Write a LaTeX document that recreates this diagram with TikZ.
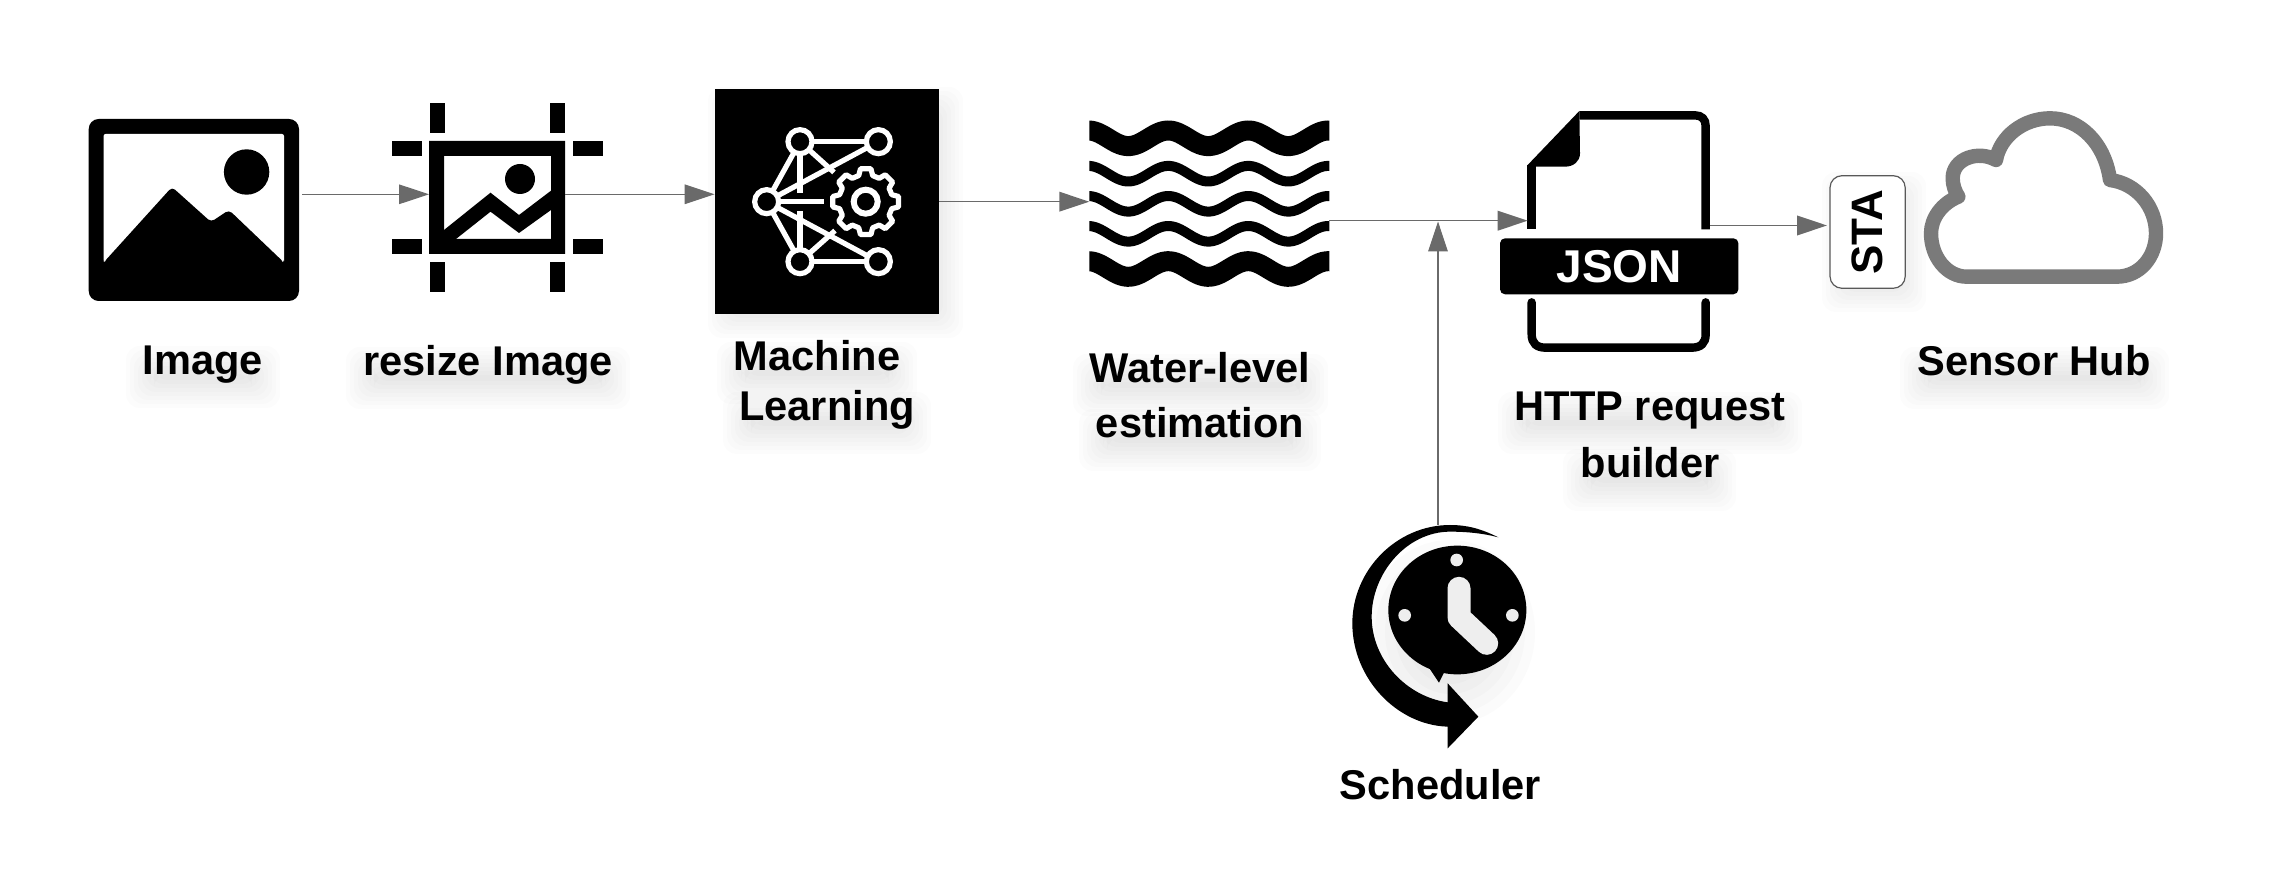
\documentclass[tikz,border=0pt]{standalone}
\usepackage{fontspec}
\setmainfont{Liberation Sans}
\usetikzlibrary{arrows.meta}
\definecolor{flowgray}{HTML}{6A6A6A}
\definecolor{cloudgray}{HTML}{7A7A7A}
\definecolor{facelight}{HTML}{EEEEEE}
\newcommand{\softshadow}[4]{%
  \foreach \s in {-10,-6,-2,2,6,10,14,18}{%
    \fill[black,opacity=.011,rounded corners=7pt] ({#1-\s},{#2-\s}) rectangle ({#3+\s},{#4+\s});}}
\newcommand{\waveband}[2]{% centre y, stroke width
  \begin{scope}
    \clip (1089.3,100) rectangle (1329.3,300);
    \draw[black,line width=#2] plot[domain=1075:1345,samples=109,smooth] (\x,{#1-7.8*cos((\x-1168.3)*4.5)});
  \end{scope}}
\tikzset{
  zoomed/.style={x=0.166667pt,y=-0.166667pt},
  iconbox/.style={inner sep=0pt,outer sep=0pt,rectangle},
  flow/.style={draw=flowgray,line width=.8pt,-{Triangle[length=15pt,width=9.8pt,fill=flowgray]}},
  thinflow/.style={flow,line width=.55pt},
  lbl/.style={anchor=base,inner sep=0pt,font=\fontsize{20.8}{24}\selectfont\bfseries,text=black},
  netline/.style={draw=white,line width=2.6pt},
  netdot/.style={draw=white,fill=black,line width=2.6pt},
}
\begin{document}
\begin{tikzpicture}[x=0.5pt,y=-0.5pt]
\useasboundingbox (0,0) rectangle (2282,881);
\fill[white] (0,0) rectangle (2282,881);

% ---- soft shadows
\softshadow{144}{364}{262}{390}
\softshadow{364}{365}{612}{391}
\softshadow{735}{360}{899}{386}
\softshadow{741}{410}{913}{436}
\softshadow{1091}{372}{1310}{398}
\softshadow{1097}{427}{1303}{453}
\softshadow{1516}{410}{1784}{436}
\softshadow{1581}{467}{1718}{493}
\softshadow{1918}{365}{2151}{391}
\softshadow{726}{105}{945}{320}
\softshadow{1840}{190}{1908}{294}
\foreach \s in {-40,-30,-20,-10,0,10}{%
  \fill[black,opacity=.016] (1450,632) ellipse [x radius={75+\s},y radius={82+\s}];}

% ---- anchor nodes for the icons
\node[iconbox,minimum width=105.2pt,minimum height=91pt] (image) at (193.85,210) {};
\node[iconbox,minimum width=68pt,minimum height=56.5pt] (resize) at (497,197.5) {};
\node[iconbox,fill=black,minimum width=112.4pt,minimum height=112.4pt] (ml) at (827,201.65) {};
\node[iconbox,minimum width=120pt,minimum height=83.5pt] (water) at (1209.3,203.5) {};
\node[iconbox,minimum width=91.2pt,minimum height=120.4pt] (doc) at (1618.85,231.35) {};
\node[iconbox,minimum width=86pt,minimum height=111.5pt] (clock) at (1438,636.5) {};
\node[iconbox,minimum width=120pt,minimum height=86.7pt] (cloud) at (2043.8,186.3) {};

% ---- image icon
\fill[black,rounded corners=5pt] (88.7,119) rectangle (299,301);
\fill[white,rounded corners=1pt] (103.6,134) rectangle (284,263);
\fill[black] (246.6,172) circle [radius=22.7];
\fill[black,rounded corners=2pt] (103.6,264) -- (103.6,262.5) -- (172,187) -- (211,222) -- (229,210) -- (284,262.5) -- (284,264) -- cycle;

% ---- resize icon
\fill[black,even odd rule] (429,141) rectangle (565,254) (444,156) rectangle (551,239);
\foreach \xa in {429.7,550}{%
  \fill[black] (\xa,103) rectangle ++(15,30);
  \fill[black] (\xa,262) rectangle ++(15,30);}
\foreach \ya in {141,239}{%
  \fill[black] (392,\ya) rectangle ++(30,15);
  \fill[black] (572.6,\ya) rectangle ++(30,15);}
\fill[black] (520,179) circle [radius=15];
\fill[black] (444,230) -- (490.5,192.7) -- (519,215) -- (551,190.7) -- (551,210) -- (519,233) -- (490.5,211.7) -- (456,239) -- (444,239) -- cycle;

% ---- machine learning icon
\begin{scope}[shift={(710,80)},zoomed]
  \coordinate (n1) at (270,185);
  \coordinate (n2) at (505,185);
  \coordinate (n3) at (170,365);
  \coordinate (n4) at (270,545);
  \coordinate (n5) at (505,545);
  \draw[netline] (n1) -- (n2);
  \draw[netline] (n3) -- (n2);
  \draw[netline] (n3) -- (n1);
  \draw[netline] (n1) -- (270,338);
  \draw[netline] (n1) -- (372,277);
  \draw[netline] (n3) -- (342,365);
  \draw[netline] (n3) -- (n5);
  \draw[netline] (n3) -- (n4);
  \draw[netline] (n4) -- (270,392);
  \draw[netline] (n4) -- (375,452);
  \draw[netline] (n4) -- (n5);
  \foreach \n in {n1,n2,n3,n4,n5}{\draw[netdot] (\n) circle [radius=36];}
\end{scope}
\begin{scope}[shift={(865.7,201.7)}]
  \draw[white,line width=2.6pt,line join=round]
    (-15:27) foreach \a in {0,45,...,315} {-- (\a-15:27) -- (\a-9:33.3) -- (\a+9:33.3) -- (\a+15:27)} -- cycle;
  \draw[white,line width=3pt] (0,0) circle [radius=12];
\end{scope}

% ---- water icon
\waveband{138.3}{10pt}
\waveband{173.7}{5pt}
\waveband{203.8}{5pt}
\waveband{233.8}{5pt}
\waveband{269}{10pt}

% ---- JSON document icon
\begin{scope}[shift={(1490,100)},zoomed]
  \draw[black,line width=4.2pt] (268,46) -- (615,46) .. controls (635,46) and (647,58) .. (647,78) -- (647,388);
  \draw[black,line width=4.2pt] (125,195) -- (125,388);
  \draw[black,line width=4.2pt,line cap=round] (125,607) -- (125,703) .. controls (125,730) and (140,743) .. (167,743) -- (605,743) .. controls (632,743) and (647,730) .. (647,703) -- (647,607);
  \fill[black] (113,195) -- (268,33) -- (270,160) .. controls (270,185) and (250,200) .. (225,200) -- (113,200) -- cycle;
\end{scope}
\node[iconbox,fill=black,rounded corners=2.5pt,text=white,minimum width=119.2pt,minimum height=28pt,font=\fontsize{23}{27}\selectfont\bfseries] (json) at (1619.2,266.3) {JSON};

% ---- cloud icon
\begin{scope}[shift={(1800,100)},zoomed]
  \draw[cloudgray,line width=7.2pt,line join=round]
    (500,530) -- (950,530) .. controls (1020,530) and (1068,470) .. (1068,400)
    .. controls (1068,320) and (1010,250) .. (930,240)
    .. controls (915,130) and (840,55) .. (750,55)
    .. controls (670,55) and (600,110) .. (588,180)
    .. controls (535,150) and (458,175) .. (458,235)
    .. controls (458,255) and (465,275) .. (475,290)
    .. controls (425,310) and (393,355) .. (393,400)
    .. controls (393,470) and (440,530) .. (500,530) -- cycle;
\end{scope}

% ---- STA badge
\node[iconbox,draw=black!65,fill=white,line width=.6pt,rounded corners=6pt,rotate=90,minimum width=56.3pt,minimum height=37.6pt,font=\fontsize{22}{26}\selectfont\bfseries] (sta) at (1867.6,232) {\raisebox{-2.6pt}{STA}};

% ---- scheduler icon
\begin{scope}[shift={(1300,500)},zoomed]
  \fill[black] (595,112) .. controls (540,85) and (500,75) .. (450,75)
    .. controls (290,75) and (157,210) .. (157,370)
    .. controls (157,535) and (290,675) .. (443,680)
    -- (443,745) -- (535,650) -- (443,550) -- (443,607)
    .. controls (320,590) and (215,480) .. (215,350)
    .. controls (215,220) and (320,95) .. (450,95)
    .. controls (500,95) and (550,100) .. (595,112) -- cycle;
  \fill[black] (472,330) ellipse [x radius=207,y radius=193];
  \fill[black] (385,500) -- (417,548) -- (435,512) -- cycle;
  \fill[facelight] (470,180) circle [radius=19];
  \fill[facelight] (314,346) circle [radius=19];
  \fill[facelight] (637,346) circle [radius=19];
  \draw[facelight,line width=11.5pt,line cap=round,line join=round] (477,265) -- (477,352) -- (560,430);
\end{scope}

% ---- labels
\node[lbl] (limage) at (203,375) {Image};
\node[lbl] (lresize) at (488,376) {resize Image};
\node[lbl] (lml1) at (817,371) {Machine};
\node[lbl] (lml2) at (827,421) {Learning};
\node[lbl] (lwater1) at (1200,382.5) {Water-level};
\node[lbl] (lwater2) at (1200,438) {estimation};
\node[lbl] (lhttp1) at (1650,421) {HTTP request};
\node[lbl] (lhttp2) at (1650,477.5) {builder};
\node[lbl] (lhub) at (2034,375.5) {Sensor Hub};
\node[lbl] (lsched) at (1440.3,799) {Scheduler};

% ---- connector rows
\coordinate (rowa) at (0,194.3);
\coordinate (rowc) at (0,201.7);
\coordinate (rowd) at (0,220.7);
\coordinate (rowe) at (0,225.5);
\coordinate (junction) at (1438,221.5);

% ---- connectors
\draw[thinflow] ([xshift=1.5pt]image.east |- rowa) -- (resize.west |- rowa);
\draw[thinflow] (resize.east |- rowa) -- (ml.west |- rowa);
\draw[flow] (ml.east |- rowc) -- (water.west |- rowc);
\draw[flow] (water.east |- rowd) -- (doc.west |- rowd);
\draw[flow] (doc.east |- rowe) -- ([xshift=-1.5pt]sta.north |- rowe);
\draw[thinflow] (clock.north) -- (junction);
\end{tikzpicture}
\end{document}
